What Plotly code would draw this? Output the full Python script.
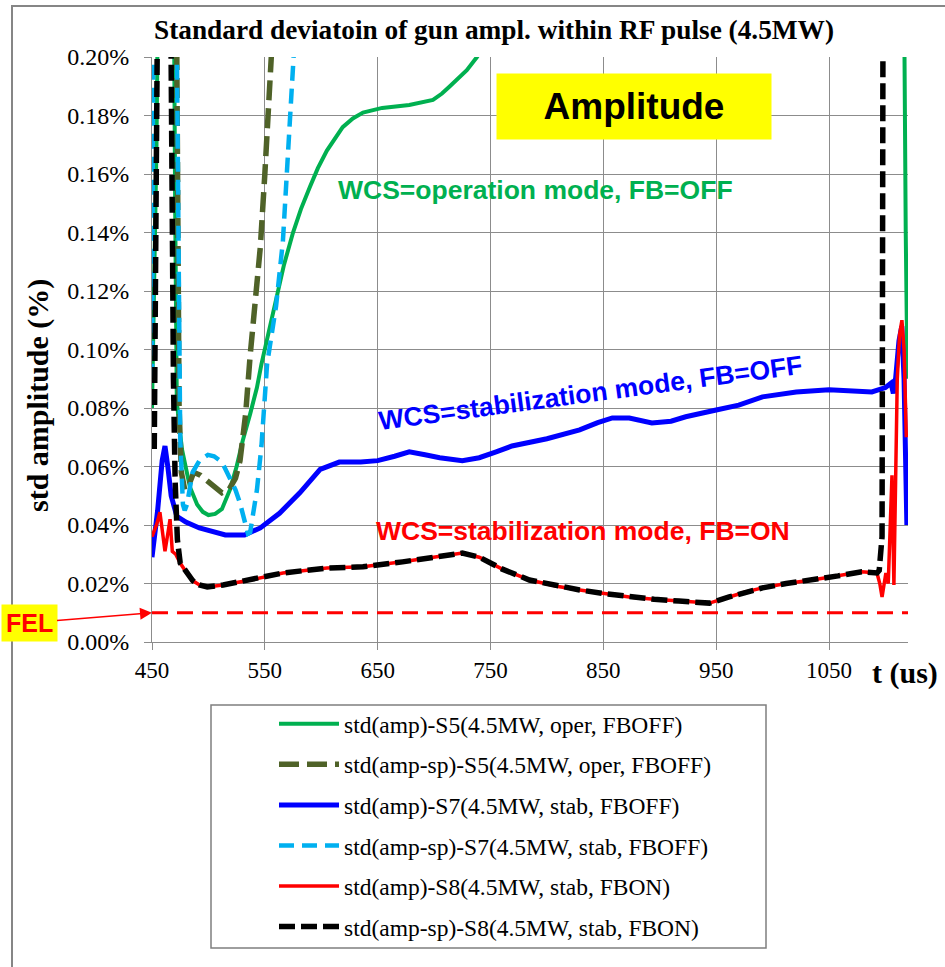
import plotly.graph_objects as go

# ---------------- data (t in us, std in %) ----------------
s5_amp_t = [450, 452, 454, 456, 469, 470.5, 471.5, 472, 476.5, 480, 483.6, 490, 495, 500, 506, 512, 519,
            525, 530.5, 537, 543, 547, 551.8, 556, 560.6, 567, 575, 582, 590, 597, 605, 612, 619, 628, 637,
            654, 678, 699, 707, 714, 722, 729, 738, 745, 760, 1116, 1118, 1119.5]
s5_amp_v = [0.08, 0.12, 0.17, 0.25, 0.25, 0.15, 0.10, 0.082, 0.066, 0.059, 0.053, 0.047, 0.0445, 0.0434,
            0.0438, 0.0455, 0.052, 0.060, 0.069, 0.078, 0.087, 0.095, 0.103, 0.111, 0.119, 0.129, 0.140,
            0.148, 0.1556, 0.162, 0.168, 0.172, 0.176, 0.179, 0.181, 0.1826, 0.1836, 0.1853, 0.1875, 0.190,
            0.193, 0.1955, 0.200, 0.204, 0.21, 0.25, 0.14, 0.09]

s5_sp_t = [450, 470, 472, 473, 474, 476, 479, 483, 487, 493, 500, 506, 512, 518, 524, 528, 533, 537, 541, 546,
           550, 554.4, 557, 560]
s5_sp_v = [0.3, 0.3, 0.2, 0.12, 0.08, 0.058, 0.052, 0.054, 0.058, 0.057, 0.055, 0.053, 0.051, 0.052, 0.056,
           0.062, 0.078, 0.098, 0.113, 0.135, 0.160, 0.189, 0.20, 0.23]

s7_amp_t = [450, 455, 459, 461.5, 464, 467, 472, 480, 492, 505, 515, 532, 546, 563, 581, 599, 616, 635, 650,
            665, 678, 692, 705, 725, 740, 755, 769, 800, 829, 845, 858, 873, 893, 910, 923, 950, 970, 991, 1021,
            1050, 1070, 1088, 1100, 1105, 1107, 1109, 1112, 1114.5, 1116.5, 1118, 1119]
s7_amp_v = [0.029, 0.045, 0.062, 0.067, 0.06, 0.05, 0.043, 0.041, 0.039, 0.0375, 0.0366, 0.0366, 0.039, 0.044,
            0.051, 0.059, 0.0615, 0.0615, 0.062, 0.0635, 0.065, 0.064, 0.063, 0.062, 0.063, 0.065, 0.067,
            0.0695, 0.0725, 0.075, 0.0766, 0.0766, 0.0749, 0.0755, 0.077, 0.0793, 0.081, 0.0838, 0.0855,
            0.0862, 0.086, 0.0855, 0.087, 0.0885, 0.085, 0.09, 0.103, 0.108, 0.09, 0.06, 0.04]

s7_sp_t = [450, 451.5, 471, 473, 475, 477.4, 479, 481, 486, 492, 499.6, 505, 512, 519, 524, 528, 532, 535, 537,
           539, 543, 547, 552, 556, 560, 566, 572, 576.5, 580]
s7_sp_v = [0.09, 0.25, 0.25, 0.15, 0.07, 0.047, 0.045, 0.047, 0.058, 0.062, 0.064, 0.0635, 0.0615, 0.056,
           0.052, 0.0475, 0.041, 0.037, 0.0375, 0.042, 0.052, 0.067, 0.095, 0.105, 0.115, 0.137, 0.172, 0.199,
           0.23]

s8_common_t = [480, 486, 492, 499, 513, 537, 566, 605, 637, 672, 702, 725, 740, 760, 784.5, 810, 829, 850,
               873, 895, 917, 944, 961.5, 975, 991, 1012, 1035, 1058, 1079, 1092.5]
s8_common_v = [0.024, 0.021, 0.0195, 0.0188, 0.0195, 0.0212, 0.0236, 0.0253, 0.0257, 0.0274, 0.0291, 0.0304,
               0.029, 0.025, 0.0212, 0.019, 0.0178, 0.0166, 0.0154, 0.0146, 0.014, 0.0133, 0.0154, 0.017,
               0.0185, 0.020, 0.0212, 0.0226, 0.024, 0.0236]

s8_amp_head_t = [450, 454, 457, 459.5, 461.5, 464, 466, 468, 471, 475]
s8_amp_head_v = [0.036, 0.040, 0.0444, 0.038, 0.031, 0.037, 0.042, 0.031, 0.030, 0.027]
s8_amp_tail_t = [1095, 1097, 1100.4, 1102.5, 1104, 1105.8, 1107.5, 1109, 1110.5, 1112.5, 1114.6, 1116.5, 1118.5]
s8_amp_tail_v = [0.020, 0.0154, 0.0236, 0.020, 0.035, 0.057, 0.0195, 0.05, 0.09, 0.105, 0.110, 0.10, 0.07]

s8_sp_head_t = [452, 454, 455.5, 466, 467.5, 469, 470.5, 472.5, 475]
s8_sp_head_v = [0.066, 0.15, 0.25, 0.25, 0.15, 0.09, 0.055, 0.035, 0.027]
s8_sp_tail_t = [1094.5, 1096, 1097, 1098, 1119]
s8_sp_tail_v = [0.0245, 0.03, 0.036, 0.25, 0.25]

fel_level = 0.01
x_range = [450, 1120]
x_ticks = [450, 550, 650, 750, 850, 950, 1050]

series_names = [
    "std(amp)-S5(4.5MW, oper, FBOFF)",
    "std(amp-sp)-S5(4.5MW, oper, FBOFF)",
    "std(amp)-S7(4.5MW, stab, FBOFF)",
    "std(amp-sp)-S7(4.5MW, stab, FBOFF)",
    "std(amp)-S8(4.5MW, stab, FBON)",
    "std(amp-sp)-S8(4.5MW, stab, FBON)",
]

# ---------------- figure ----------------
W, H = 945, 967
L, R, T, B = 152, 37, 57, 325
pw, ph = W - L - R, H - T - B


def px(xp):
    return (xp - L) / pw


def py(yp):
    return (H - B - yp) / ph


fig = go.Figure()

fig.add_trace(go.Scatter(x=[x_range[0], x_range[1]], y=[fel_level, fel_level], mode="lines",
                         line=dict(color="#FF0000", width=3, dash="16px,9px"), showlegend=False,
                         hoverinfo="skip"))

styles = [
    dict(color="#00B050", width=4),
    dict(color="#4F6228", width=5.5, dash="20px,8px"),
    dict(color="#0000FF", width=5),
    dict(color="#00B0F0", width=4.5, dash="15px,8px"),
    dict(color="#FF0000", width=3.5),
    dict(color="#000000", width=5.5, dash="16px,6px"),
]
xs = [s5_amp_t, s5_sp_t, s7_amp_t, s7_sp_t,
      s8_amp_head_t + s8_common_t + s8_amp_tail_t,
      s8_sp_head_t + s8_common_t + s8_sp_tail_t]
ys = [s5_amp_v, s5_sp_v, s7_amp_v, s7_sp_v,
      s8_amp_head_v + s8_common_v + s8_amp_tail_v,
      s8_sp_head_v + s8_common_v + s8_sp_tail_v]

for i, (name, st) in enumerate(zip(series_names, styles)):
    fig.add_trace(go.Scatter(x=xs[i], y=ys[i], mode="lines", name=name, line=st,
                             legendgroup=f"g{i}"))

serif = "Liberation Serif"
sans = "Liberation Sans"


def note(text, xp, yp, size, color, family=sans, **kw):
    return dict(text=text, xref="paper", yref="paper", x=px(xp), y=py(yp), xanchor="center",
                yanchor="middle", showarrow=False, font=dict(family=family, size=size, color=color), **kw)


fig.update_layout(
    width=W, height=H,
    margin=dict(l=L, r=R, t=T, b=B),
    paper_bgcolor="white", plot_bgcolor="white",
    showlegend=True,
    legend=dict(x=px(274), xanchor="left", y=py(702), yanchor="top",
                font=dict(family=serif, size=23.5, color="#000000"),
                bgcolor="rgba(0,0,0,0)", borderwidth=0, tracegroupgap=7,
                itemwidth=60, traceorder="grouped"),
    xaxis=dict(range=x_range, tickvals=x_ticks, showgrid=True, gridcolor="#8C8C8C", gridwidth=1,
               showline=True, linecolor="#8C8C8C", linewidth=1, ticks="outside", ticklen=7,
               tickcolor="#8C8C8C", zeroline=False,
               tickfont=dict(family=serif, size=23, color="#000000")),
    yaxis=dict(range=[0, 0.2], dtick=0.02, tickformat=".2f", ticksuffix="%", showgrid=True,
               gridcolor="#8C8C8C", gridwidth=1, showline=True, linecolor="#8C8C8C", linewidth=1,
               ticks="outside", ticklen=7, tickcolor="#8C8C8C", zeroline=False, ticklabelstandoff=10,
               tickfont=dict(family=serif, size=24, color="#000000")),
    shapes=[
        dict(type="rect", xref="paper", yref="paper", x0=px(12), x1=px(970), y0=py(985), y1=py(6),
             line=dict(color="#868686", width=2), fillcolor="rgba(0,0,0,0)", layer="below"),
        dict(type="rect", xref="paper", yref="paper", x0=px(211), x1=px(766), y0=py(948), y1=py(705),
             line=dict(color="#7F7F7F", width=1.5), fillcolor="rgba(0,0,0,0)"),
    ],
    annotations=[
        note("<b>Standard deviatoin of gun ampl. within RF pulse (4.5MW)</b>", 494, 30, 27.3, "#000000",
             family=serif),
        note("<b>std amplitude (%)</b>", 38, 396, 30, "#000000", family=serif, textangle=-90),
        note("<b>t (us)</b>", 905, 673, 30, "#000000", family=serif),
        note("<b>Amplitude</b>", 634, 106.5, 37, "#000000", bgcolor="#FFFF00", width=272, height=63,
             borderpad=1),
        note("<b>WCS=operation mode, FB=OFF</b>", 535, 190, 26.5, "#00B050"),
        note("<b>WCS=stabilization mode, FB=OFF</b>", 590, 393, 26.5, "#0000FF", textangle=-7.6),
        note("<b>WCS=stabilization mode, FB=ON</b>", 583, 531, 26.5, "#FF0000"),
        dict(text="<b>FEL</b>", x=x_range[0], y=fel_level, xref="x", yref="y", showarrow=True,
             ax=-123, ay=10, arrowhead=2, arrowsize=1.6, arrowwidth=1.5, arrowcolor="#FF0000",
             bgcolor="#FFFF00", borderpad=4, font=dict(family=sans, size=25, color="#FF0000")),
    ],
)

fig.write_html("out.html")
